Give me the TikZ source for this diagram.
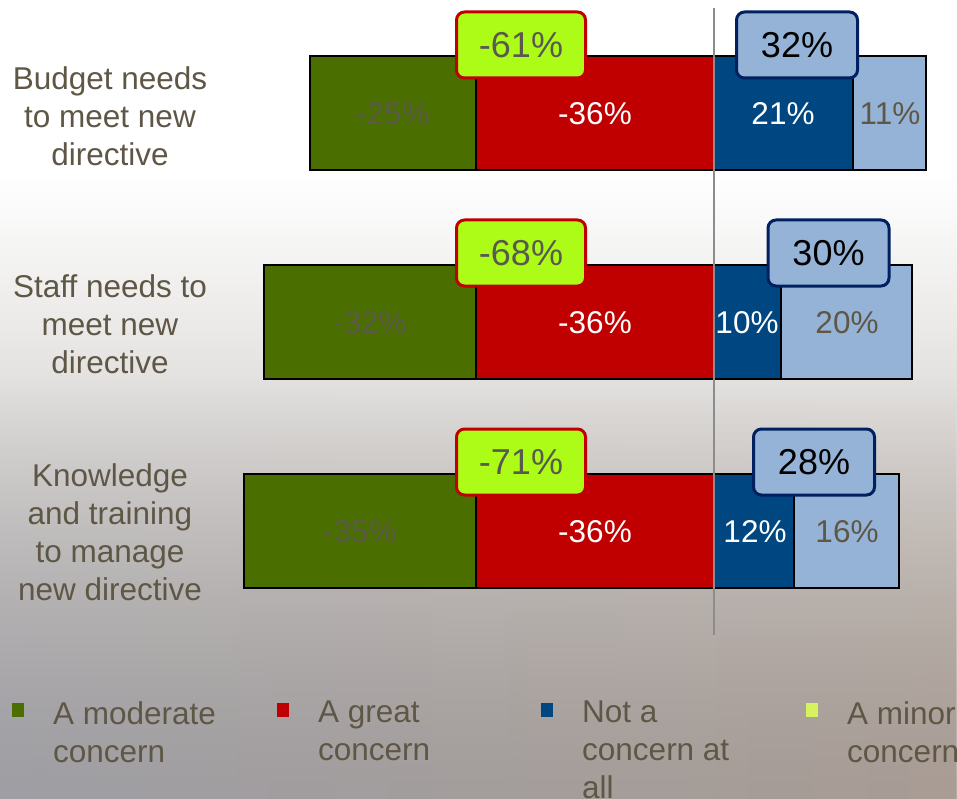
\documentclass[tikz,border=0pt]{standalone}
\usepackage{fontspec}
\setmainfont{Liberation Sans}
\usetikzlibrary{fadings}

\definecolor{modgreen}{RGB}{74,110,0}
\definecolor{greatred}{RGB}{192,0,0}
\definecolor{notblue}{RGB}{0,70,128}
\definecolor{minorblue}{RGB}{149,179,215}
\definecolor{limefill}{RGB}{173,252,23}
\definecolor{limekey}{RGB}{214,242,92}
\definecolor{navyline}{RGB}{0,32,96}
\definecolor{labeltext}{RGB}{95,87,70}
\definecolor{dimtext}{RGB}{92,90,72}
\definecolor{boxtext}{RGB}{89,89,80}
\definecolor{bgmid}{RGB}{222,220,218}
\definecolor{bgbot}{RGB}{182,174,168}
\definecolor{bgleft}{RGB}{158,158,164}
\definecolor{bgbeige}{RGB}{214,200,186}
\definecolor{bgright}{RGB}{168,156,148}

\tikzset{
  seg/.style={draw=black, line width=1.3pt},
  val/.style={font=\fontsize{31.5}{38}\selectfont, inner sep=0pt},
  catlabel/.style={font=\fontsize{31.5}{38}\selectfont, text=labeltext, align=center, inner sep=0pt, anchor=north},
  legendtext/.style={font=\fontsize{31.5}{38}\selectfont, text=labeltext, align=left, inner sep=0pt, anchor=north west},
  negbox/.style={draw=greatred, fill=limefill, line width=3pt, rounded corners=8pt, minimum width=129pt, minimum height=66pt, inner sep=0pt, font=\fontsize{36}{40}\selectfont, text=boxtext},
  posbox/.style={draw=navyline, fill=minorblue, line width=3pt, rounded corners=8pt, minimum width=121pt, minimum height=66pt, inner sep=0pt, font=\fontsize{36}{40}\selectfont, text=black},
  zeroline/.style={draw=black!45, line width=1.5pt}
}

\begin{document}
\begin{tikzpicture}[x=1pt, y=-1pt]
\useasboundingbox (0,0) rectangle (957,799);

%the background
\fill[white] (0,0) rectangle (957,799);
\shade[top color=white, bottom color=bgmid] (0,175) rectangle (957,420);
\shade[top color=bgmid, bottom color=bgbot] (0,420) rectangle (957,799);
\shade[left color=bgleft, middle color=bgbeige, right color=bgright, path fading=north] (0,380) rectangle (957,799);

%the bars
\draw[seg, fill=modgreen] (310,56) rectangle (476,170);
\draw[seg, fill=greatred] (476,56) rectangle (714,170);
\draw[seg, fill=notblue] (714,56) rectangle (853,170);
\draw[seg, fill=minorblue] (853,56) rectangle (926,170);

\draw[seg, fill=modgreen] (264,265) rectangle (476,379);
\draw[seg, fill=greatred] (476,265) rectangle (714,379);
\draw[seg, fill=notblue] (714,265) rectangle (781,379);
\draw[seg, fill=minorblue] (781,265) rectangle (912,379);

\draw[seg, fill=modgreen] (244,474) rectangle (476,588);
\draw[seg, fill=greatred] (476,474) rectangle (714,588);
\draw[seg, fill=notblue] (714,474) rectangle (794,588);
\draw[seg, fill=minorblue] (794,474) rectangle (899,588);

%the values
\node[val, text=dimtext] (b1mod) at (393,114) {-25\%};
\node[val, text=white] (b1great) at (595,114) {-36\%};
\node[val, text=white] (b1not) at (783,114) {21\%};
\node[val, text=labeltext] (b1minor) at (890,114) {11\%};

\node[val, text=dimtext] (b2mod) at (370,323) {-32\%};
\node[val, text=white] (b2great) at (595,323) {-36\%};
\node[val, text=white] (b2not) at (747,323) {10\%};
\node[val, text=labeltext] (b2minor) at (847,323) {20\%};

\node[val, text=dimtext] (b3mod) at (360,532) {-35\%};
\node[val, text=white] (b3great) at (595,532) {-36\%};
\node[val, text=white] (b3not) at (755,532) {12\%};
\node[val, text=labeltext] (b3minor) at (847,532) {16\%};

%the zero line
\coordinate (ztop) at (714,8);
\coordinate (zbot) at (714,635);
\draw[zeroline] (ztop) -- (zbot);

%the totals
\node[negbox] (neg1) at (521,45) {-61\%};
\node[posbox] (pos1) at (797,45) {32\%};
\node[negbox] (neg2) at (521,253) {-68\%};
\node[posbox] (pos2) at (828.5,253) {30\%};
\node[negbox] (neg3) at (521,462) {-71\%};
\node[posbox] (pos3) at (814,462) {28\%};

%the categories
\node[catlabel] (cat1) at (110,66) {Budget needs\\to meet new\\directive};
\node[catlabel] (cat2) at (110,274) {Staff needs to\\meet new\\directive};
\node[catlabel] (cat3) at (110,463) {Knowledge\\and training\\to manage\\new directive};

%the legend
\fill[modgreen] (12,703) rectangle (24,717);
\fill[greatred] (277,703) rectangle (289,717);
\fill[notblue] (541,703) rectangle (553,717);
\fill[limekey] (806,703) rectangle (818,717);
\node[legendtext] (legmod) at (53,701) {A moderate\\concern};
\node[legendtext] (leggreat) at (318,701) {A great\\concern};
\node[legendtext] (legnot) at (582,701) {Not a\\concern at\\all};
\node[legendtext] (legminor) at (847,701) {A minor\\concern};
\end{tikzpicture}
\end{document}
